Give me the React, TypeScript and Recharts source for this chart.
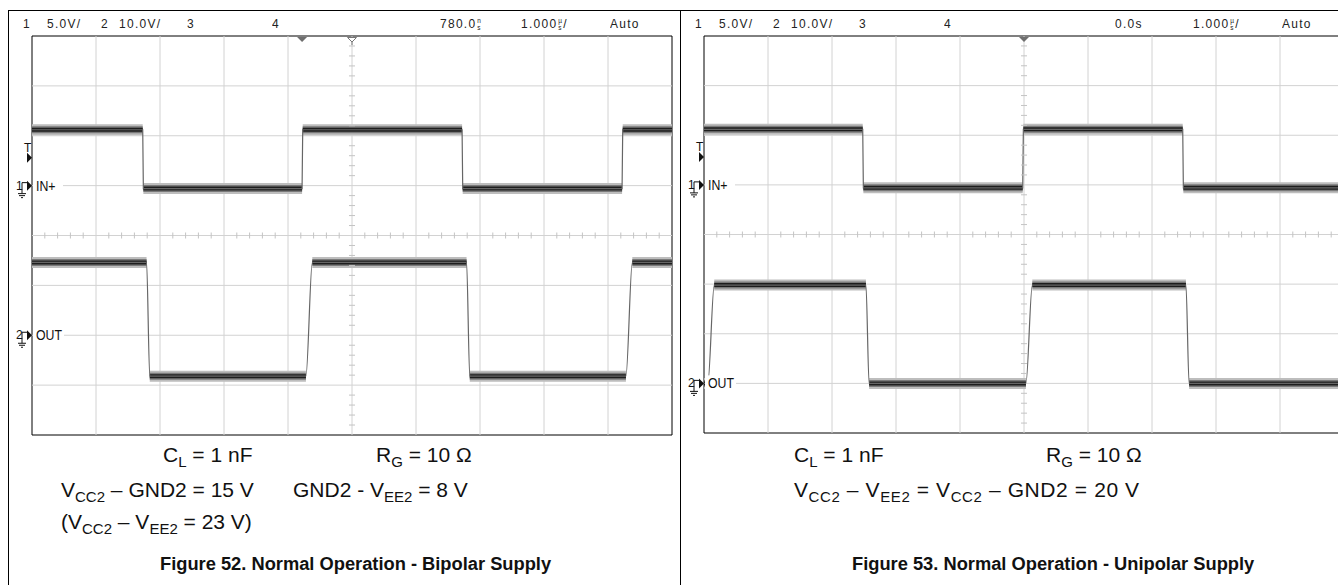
import React from "react";
import { ComposedChart, Line, XAxis, YAxis, ReferenceLine, ReferenceDot, ReferenceArea } from "recharts";

const SCOPE_FONT = '"Liberation Sans", Arial, sans-serif';
const TEXT_FONT = '"Liberation Sans", Arial, sans-serif';

// scope screen: 10 div x 1 µs, 8 div vertical
const xTicks = [0, 1, 2, 3, 4, 5, 6, 7, 8, 9, 10];
const yTicks = [-4, -3, -2, -1, 0, 1, 2, 3, 4];

// Figure 52 – bipolar supply (edge times in µs from screen left, levels in V)
const fig52InEdges = [1.73, 4.22, 6.72, 9.22];
const fig52InLevels = [5.6, -0.3, 5.6, -0.3, 5.6];
const fig52OutEdges = [1.79, 4.28, 6.79, 9.28];
const fig52OutLevels = [14.6, -8.2, 14.6, -8.2, 14.6];

// Figure 53 – unipolar supply
const fig53InEdges = [2.48, 4.98, 7.48];
const fig53InLevels = [5.6, -0.3, 5.6, -0.3];
const fig53OutEdges = [0.06, 2.53, 5.03, 7.53];
const fig53OutLevels = [0, 19.8, 0, 19.8, 0];

// channel setup: V/div and ground position (div from centre)
const ch1Scale = 5;
const ch2Scale = 10;
const fig52Grounds = [1, -2];
const fig53Grounds = [1, -3];
const triggerLevel = 2.8; // V on ch1
const fig52Delay = 0.78; // µs
const fig53Delay = 0;

const inEdgeTime = 0.01;
const outRiseTime = 0.1;
const outFallTime = 0.05;

type Pt = { t: number; y: number | null };

function buildTrace(edges: number[], levels: number[], scale: number, ground: number, rise: number, fall: number) {
  const full: Pt[] = [];
  const flat: Pt[] = [];
  levels.forEach((v, i) => {
    const prevDur = i === 0 ? 0 : levels[i] > levels[i - 1] ? rise : fall;
    const start = i === 0 ? 0 : edges[i - 1] + prevDur;
    const end = i < edges.length ? edges[i] : 10;
    const y = ground + v / scale;
    full.push({ t: start, y }, { t: end, y });
    flat.push({ t: start, y }, { t: end, y });
    if (i < edges.length) flat.push({ t: end + 0.001, y: null });
  });
  return { full, flat };
}

const minorX: number[] = [];
for (let i = 1; i < 50; i++) if (i % 5 !== 0) minorX.push(i / 5);
const minorY: number[] = [];
for (let i = -19; i < 20; i++) if (i % 5 !== 0) minorY.push(i / 5);

const GRID = "#d2d2d2";

function groundMarker(num: string, name: string, nameW: number) {
  return (p: any) => {
    const { cx, cy } = p;
    return (
      <g>
        <rect x={cx + 1} y={cy - 8} width={nameW} height={16} fill="#fff" />
        <text x={cx + 4} y={cy + 5} fontSize={14} fontFamily={SCOPE_FONT} fill="#111" transform={`translate(${cx + 4},0) scale(0.88,1) translate(${-(cx + 4)},0)`}>{name}</text>
        <text x={cx - 16} y={cy + 4} fontSize={12} fontFamily={SCOPE_FONT} fill="#111">{num}</text>
        <path d={`M${cx - 5},${cy - 5} L${cx},${cy} L${cx - 5},${cy + 5} Z`} fill="#111" />
        <path
          d={`M${cx - 5},${cy - 3} H${cx - 10} V${cy + 8} M${cx - 14},${cy + 8} H${cx - 6} M${cx - 13},${cy + 10} H${cx - 7} M${cx - 11},${cy + 12} H${cx - 9}`}
          stroke="#111"
          fill="none"
          strokeWidth={1}
        />
      </g>
    );
  };
}

const trigMarker = (p: any) => {
  const { cx, cy } = p;
  return (
    <g>
      <text x={cx - 8} y={cy - 6} fontSize={12} fontFamily={SCOPE_FONT} fill="#111">T</text>
      <path d={`M${cx - 5},${cy - 5} L${cx},${cy} L${cx - 5},${cy + 5} Z`} fill="#111" />
    </g>
  );
};

const topFilled = (p: any) => {
  const { cx, cy } = p;
  return <path d={`M${cx - 5},${cy + 1} H${cx + 5} L${cx},${cy + 6} Z`} fill="#6e6e6e" />;
};

const topHollow = (p: any) => {
  const { cx, cy } = p;
  return <path d={`M${cx - 4.5},${cy + 1.5} H${cx + 4.5} L${cx},${cy + 6} Z M${cx},${cy + 6} V${cy + 9}`} fill="#fff" stroke="#777" strokeWidth={1} />;
};

const hTick = (p: any) => <line x1={p.cx - 3} x2={p.cx + 3} y1={p.cy} y2={p.cy} stroke="#c4c4c4" strokeWidth={1} />;
const vTick = (p: any) => <line x1={p.cx} x2={p.cx} y1={p.cy - 3} y2={p.cy + 3} stroke="#c4c4c4" strokeWidth={1} />;

type ScopeProps = {
  left: number;
  width: number;
  marginLeft: number;
  plotBottom: number;
  traces: { full: Pt[]; flat: Pt[]; smooth: boolean }[];
  grounds: number[];
  delay: number;
};

function Scope({ left, width, marginLeft, plotBottom, traces, grounds, delay }: ScopeProps) {
  const trigPos = 5 - delay;
  const lineProps = { dataKey: "y", dot: false, activeDot: false, isAnimationActive: false, strokeLinecap: "butt" as const };
  return (
    <div style={{ position: "absolute", left, top: 0 }}>
      <ComposedChart
        width={width}
        height={585}
        margin={{ top: 36, left: marginLeft, right: width - marginLeft - 640, bottom: 585 - plotBottom }}
      >
        <XAxis type="number" dataKey="t" domain={[0, 10]} ticks={xTicks} hide allowDataOverflow />
        <YAxis type="number" domain={[-4, 4]} ticks={yTicks} hide allowDataOverflow />
        {xTicks.slice(1, -1).map((v) => (
          <ReferenceLine key={`gx${v}`} x={v} stroke={GRID} strokeWidth={1} />
        ))}
        {yTicks.slice(1, -1).map((v) => (
          <ReferenceLine key={`gy${v}`} y={v} stroke={GRID} strokeWidth={1} />
        ))}
        {minorY.map((v) => (
          <ReferenceDot key={`my${v}`} x={5} y={v} r={0} shape={hTick} ifOverflow="visible" />
        ))}
        {minorX.map((v) => (
          <ReferenceDot key={`mx${v}`} x={v} y={0} r={0} shape={vTick} ifOverflow="visible" />
        ))}
        {traces.map((tr, i) => (
          <Line key={`h${i}`} data={tr.flat} {...lineProps} stroke="#bdbdbd" strokeWidth={11} />
        ))}
        {traces.map((tr, i) => (
          <Line key={`m${i}`} data={tr.flat} {...lineProps} stroke="#7a7a7a" strokeWidth={7} />
        ))}
        {traces.map((tr, i) => (
          <Line key={`c${i}`} data={tr.flat} {...lineProps} stroke="#1e1e1e" strokeWidth={4} />
        ))}
        {traces.map((tr, i) => (
          <Line key={`e${i}`} data={tr.full} {...lineProps} type={tr.smooth ? "monotone" : "linear"} stroke="#666" strokeWidth={1.2} />
        ))}
        <ReferenceArea x1={0} x2={10} y1={-4} y2={4} fill="none" stroke="#000" strokeWidth={1} ifOverflow="visible" />
        <ReferenceDot x={0} y={grounds[0] + triggerLevel / ch1Scale} r={0} shape={trigMarker} ifOverflow="visible" />
        <ReferenceDot x={0} y={grounds[0]} r={0} shape={groundMarker("1", "IN+", 30)} ifOverflow="visible" />
        <ReferenceDot x={0} y={grounds[1]} r={0} shape={groundMarker("2", "OUT", 31)} ifOverflow="visible" />
        <ReferenceDot x={trigPos} y={4} r={0} shape={topFilled} ifOverflow="visible" />
        {delay !== 0 && <ReferenceDot x={5} y={4} r={0} shape={topHollow} ifOverflow="visible" />}
      </ComposedChart>
    </div>
  );
}

function Stack({ a, b }: { a: string; b: string }) {
  return (
    <span style={{ display: "inline-flex", flexDirection: "column", fontSize: 7, lineHeight: "7px", verticalAlign: "top", marginTop: 1, marginLeft: 1 }}>
      <span>{a}</span>
      <span>{b}</span>
    </span>
  );
}

function Header({ x0, pos }: { x0: number; pos: string }) {
  const items: [number, React.ReactNode][] = [
    [23, "1"],
    [47, "5.0V/"],
    [101, "2"],
    [119, "10.0V/"],
    [187, "3"],
    [272, "4"],
    [pos === "0.0s" ? 443 : 440, pos === "0.0s" ? <span>0.0s</span> : <span>780.0<Stack a="n" b="s" /></span>],
    [521, <span>1.000<Stack a="µ" b="s" />/</span>],
    [610, "Auto"],
  ];
  return (
    <>
      {items.map(([x, t], i) => (
        <div
          key={i}
          style={{
            position: "absolute",
            left: x0 + x,
            top: 16,
            fontFamily: SCOPE_FONT,
            fontSize: 13,
            letterSpacing: 1.4,
            lineHeight: "16px",
            color: "#222",
            whiteSpace: "nowrap",
            transform: "scaleX(0.92)",
            transformOrigin: "0 0",
          }}
        >
          {t}
        </div>
      ))}
    </>
  );
}

const Sub = ({ children }: { children: React.ReactNode }) => (
  <span style={{ fontSize: 15, verticalAlign: "-0.3em" }}>{children}</span>
);

function Cap({ x, y, children, spacing = 0 }: { x: number; y: number; children: React.ReactNode; spacing?: number }) {
  return (
    <div style={{ position: "absolute", left: x, top: y - 13, fontFamily: TEXT_FONT, fontSize: 21, letterSpacing: spacing, lineHeight: "26px", color: "#111", whiteSpace: "nowrap" }}>
      {children}
    </div>
  );
}

const titleStyle: React.CSSProperties = {
  position: "absolute",
  top: 552,
  fontFamily: TEXT_FONT,
  fontSize: 18.3,
  fontWeight: "bold",
  lineHeight: "24px",
  color: "#111",
  whiteSpace: "nowrap",
};

export default function App() {
  const t52 = [
    { ...buildTrace(fig52InEdges, fig52InLevels, ch1Scale, fig52Grounds[0], inEdgeTime, inEdgeTime), smooth: false },
    { ...buildTrace(fig52OutEdges, fig52OutLevels, ch2Scale, fig52Grounds[1], outRiseTime, outFallTime), smooth: true },
  ];
  const t53 = [
    { ...buildTrace(fig53InEdges, fig53InLevels, ch1Scale, fig53Grounds[0], inEdgeTime, inEdgeTime), smooth: false },
    { ...buildTrace(fig53OutEdges, fig53OutLevels, ch2Scale, fig53Grounds[1], outRiseTime, outFallTime), smooth: true },
  ];
  return (
    <div style={{ position: "absolute", left: 0, top: 0, width: 1338, height: 585, overflow: "hidden", background: "#fff" }}>
      <div style={{ position: "absolute", left: 8, top: 10, width: 1330, height: 1, background: "#000" }} />
      <div style={{ position: "absolute", left: 8, top: 10, width: 1, height: 575, background: "#000" }} />
      <div style={{ position: "absolute", left: 680, top: 10, width: 1, height: 575, background: "#000" }} />

      <Scope left={0} width={680} marginLeft={32} plotBottom={435} traces={t52} grounds={fig52Grounds} delay={fig52Delay} />
      <Scope left={680} width={664} marginLeft={24} plotBottom={433} traces={t53} grounds={fig53Grounds} delay={fig53Delay} />

      <Header x0={0} pos="780.0ns" />
      <Header x0={672} pos="0.0s" />

      <Cap x={163} y={455}>C<Sub>L</Sub> = 1 nF</Cap>
      <Cap x={376} y={455}>R<Sub>G</Sub> = 10 Ω</Cap>
      <Cap x={61} y={490}>V<Sub>CC2</Sub> – GND2 = 15 V</Cap>
      <Cap x={293} y={490}>GND2 - V<Sub>EE2</Sub> = 8 V</Cap>
      <Cap x={61} y={522}>(V<Sub>CC2</Sub> – V<Sub>EE2</Sub> = 23 V)</Cap>
      <div style={{ ...titleStyle, left: 160 }}>Figure 52. Normal Operation - Bipolar Supply</div>

      <Cap x={794} y={455}>C<Sub>L</Sub> = 1 nF</Cap>
      <Cap x={1046} y={455}>R<Sub>G</Sub> = 10 Ω</Cap>
      <Cap x={794} y={490} spacing={0.6}>V<Sub>CC2</Sub> – V<Sub>EE2</Sub> = V<Sub>CC2</Sub> – GND2 = 20 V</Cap>
      <div style={{ ...titleStyle, left: 852 }}>Figure 53. Normal Operation - Unipolar Supply</div>
    </div>
  );
}
